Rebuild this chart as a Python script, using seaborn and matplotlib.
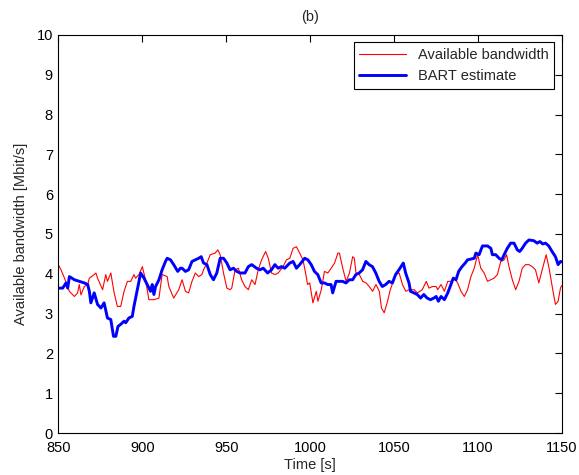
import numpy as np
import pandas as pd
import seaborn as sns
import matplotlib
matplotlib.use("Agg")
import matplotlib.pyplot as plt

# available bandwidth (red, thin)
avail_t = [850.0, 851.5, 853.5, 856.5, 859.5, 861.4, 862.4, 863.4, 865.4, 867.4, 868.4, 871.3,
           872.3, 873.3, 876.3, 878.2, 879.2, 881.2, 883.2, 885.1, 887.1, 889.1, 891.1, 893.1,
           895.0, 896.0, 898.0, 900.0, 901.9, 903.9, 906.9, 909.9, 911.8, 914.8, 915.8, 918.7,
           921.7, 923.7, 925.7, 927.6, 929.6, 931.6, 933.6, 935.5, 936.5, 938.5, 940.5, 943.4,
           945.0, 946.4, 948.4, 950.4, 952.3, 953.3, 955.3, 957.3, 959.2, 961.2, 963.2, 965.2,
           967.2, 969.1, 971.1, 973.5, 975.1, 977.0, 979.0, 981.0, 983.9, 985.9, 987.9, 989.9,
           991.9, 993.8, 995.8, 997.5, 998.5, 999.8, 1001.7, 1003.7, 1004.7, 1006.7, 1008.6, 1010.6,
           1012.6, 1014.6, 1016.6, 1017.5, 1019.5, 1021.5, 1023.5, 1025.4, 1026.4, 1027.4, 1029.4, 1031.4,
           1033.4, 1035.3, 1037.3, 1039.3, 1041.3, 1042.6, 1044.2, 1046.2, 1047.6, 1049.2, 1051.1, 1053.1,
           1055.1, 1057.1, 1059.0, 1062.0, 1064.0, 1066.9, 1069.3, 1070.9, 1072.9, 1075.2, 1076.1, 1078.1,
           1080.1, 1082.1, 1084.0, 1086.0, 1088.0, 1090.0, 1092.0, 1093.9, 1095.9, 1097.9, 1099.9, 1101.8,
           1103.8, 1105.8, 1107.8, 1109.7, 1111.7, 1113.7, 1115.7, 1117.2, 1118.6, 1120.6, 1122.6, 1124.6,
           1126.5, 1128.5, 1130.5, 1132.5, 1134.4, 1136.4, 1138.4, 1140.8, 1142.7, 1144.7, 1146.3, 1147.9,
           1149.3, 1150.0]
avail_bw = [4.22, 4.10, 3.90, 3.56, 3.43, 3.52, 3.73, 3.47, 3.68, 3.73, 3.89, 3.98,
            4.02, 3.89, 3.60, 3.98, 3.81, 4.02, 3.52, 3.18, 3.18, 3.56, 3.81, 3.81,
            3.98, 3.89, 3.98, 4.18, 3.85, 3.35, 3.35, 3.39, 3.98, 3.93, 3.68, 3.39,
            3.60, 3.85, 3.56, 3.52, 3.81, 4.02, 3.93, 3.98, 4.10, 4.27, 4.48, 4.52,
            4.60, 4.48, 4.02, 3.64, 3.60, 3.64, 4.10, 4.14, 3.85, 3.68, 3.60, 3.85,
            3.73, 4.10, 4.35, 4.56, 4.39, 4.02, 3.98, 4.02, 4.18, 4.35, 4.39, 4.64,
            4.68, 4.52, 4.35, 3.98, 3.73, 3.77, 3.27, 3.56, 3.31, 3.60, 4.06, 4.02,
            4.14, 4.27, 4.52, 4.52, 4.14, 3.81, 4.02, 4.43, 4.39, 4.02, 3.98, 3.81,
            3.77, 3.68, 3.56, 3.73, 3.56, 3.14, 3.02, 3.31, 3.56, 3.77, 3.98, 4.02,
            3.73, 3.56, 3.60, 3.60, 3.52, 3.60, 3.81, 3.64, 3.68, 3.68, 3.60, 3.73,
            3.56, 3.81, 3.81, 3.89, 3.77, 3.56, 3.43, 3.60, 3.93, 4.14, 4.48, 4.14,
            4.02, 3.81, 3.85, 3.89, 3.98, 4.31, 4.35, 4.48, 4.18, 3.85, 3.60, 3.81,
            4.14, 4.23, 4.23, 4.18, 4.10, 3.77, 4.10, 4.48, 4.10, 3.60, 3.23, 3.31,
            3.64, 3.70]

# BART estimate (blue, thick)
bart_t = [850.0, 852.5, 854.5, 855.5, 856.5, 859.5, 862.4, 865.4, 867.4, 868.4, 869.3, 871.3,
          873.3, 875.3, 877.2, 879.2, 881.2, 882.8, 884.2, 885.5, 887.1, 889.1, 890.1, 892.0,
          894.0, 895.0, 897.0, 899.0, 901.0, 902.9, 904.9, 905.9, 906.9, 907.9, 909.9, 911.8,
          913.8, 914.8, 916.8, 918.7, 921.1, 922.7, 923.7, 925.7, 927.6, 929.6, 931.6, 933.6,
          935.1, 936.5, 938.5, 940.5, 942.4, 944.4, 946.4, 948.4, 950.4, 952.3, 954.3, 956.3,
          958.3, 961.2, 963.2, 965.2, 968.1, 970.1, 972.1, 974.7, 977.0, 979.0, 981.0, 983.0,
          984.9, 987.9, 989.9, 991.9, 993.8, 996.8, 998.7, 1000.7, 1002.6, 1004.6, 1006.6, 1008.6,
          1010.5, 1012.5, 1013.5, 1015.5, 1017.5, 1019.4, 1021.4, 1023.4, 1025.4, 1027.3, 1029.3, 1031.3,
          1033.3, 1035.2, 1037.2, 1039.2, 1041.2, 1043.1, 1045.1, 1047.1, 1049.1, 1051.0, 1053.0, 1055.6,
          1057.0, 1059.0, 1059.9, 1061.9, 1063.9, 1065.9, 1067.8, 1069.8, 1071.8, 1073.8, 1075.2, 1076.5,
          1078.1, 1080.1, 1082.1, 1084.0, 1085.4, 1087.0, 1088.6, 1090.6, 1092.5, 1093.9, 1095.9, 1097.9,
          1098.9, 1100.8, 1102.8, 1105.8, 1107.8, 1108.7, 1110.7, 1112.7, 1114.3, 1115.7, 1117.6, 1119.6,
          1121.6, 1123.6, 1125.0, 1126.5, 1128.5, 1130.5, 1133.5, 1135.4, 1137.0, 1138.8, 1140.4, 1142.3,
          1144.3, 1146.3, 1147.9, 1149.3, 1150.0]
bart_bw = [3.64, 3.64, 3.77, 3.64, 3.93, 3.85, 3.81, 3.77, 3.73, 3.56, 3.27, 3.52,
           3.23, 3.14, 3.27, 2.89, 2.85, 2.43, 2.43, 2.68, 2.73, 2.81, 2.77, 2.89,
           2.93, 3.18, 3.60, 4.02, 3.89, 3.73, 3.56, 3.73, 3.48, 3.68, 3.85, 4.10,
           4.31, 4.39, 4.35, 4.23, 4.06, 4.14, 4.14, 4.06, 4.10, 4.31, 4.35, 4.39,
           4.43, 4.27, 4.23, 3.98, 3.85, 4.02, 4.39, 4.39, 4.27, 4.10, 4.14, 4.06,
           4.02, 4.02, 4.18, 4.23, 4.14, 4.10, 4.14, 4.02, 4.10, 4.23, 4.14, 4.18,
           4.14, 4.27, 4.31, 4.14, 4.23, 4.39, 4.35, 4.23, 4.06, 3.98, 3.77, 3.77,
           3.73, 3.73, 3.52, 3.81, 3.81, 3.81, 3.77, 3.85, 3.85, 3.98, 4.02, 4.10,
           4.31, 4.23, 4.18, 4.02, 3.81, 3.68, 3.73, 3.81, 3.77, 3.98, 4.10, 4.27,
           4.02, 3.77, 3.56, 3.52, 3.48, 3.39, 3.48, 3.39, 3.35, 3.39, 3.43, 3.31,
           3.43, 3.35, 3.52, 3.73, 3.89, 3.85, 4.06, 4.18, 4.27, 4.35, 4.37, 4.39,
           4.52, 4.48, 4.70, 4.70, 4.64, 4.48, 4.48, 4.39, 4.35, 4.48, 4.64, 4.77,
           4.77, 4.60, 4.56, 4.64, 4.77, 4.85, 4.83, 4.77, 4.81, 4.75, 4.77, 4.70,
           4.56, 4.43, 4.23, 4.31, 4.30]

sns.set_style("white")
plt.rcParams['font.family'] = ['Liberation Sans', 'DejaVu Sans']
fs = 10.5

fig = plt.figure(figsize=(5.79, 4.75), dpi=100)
ax = fig.add_axes([0.101, 0.0884, 0.869, 0.838])

sns.lineplot(x=avail_t, y=avail_bw, ax=ax, color='#ff0000', linewidth=0.8,
             label='Available bandwidth')
sns.lineplot(x=bart_t, y=bart_bw, ax=ax, color='#0000ff', linewidth=2.1,
             label='BART estimate')

ax.set_xlim(850, 1150)
ax.set_ylim(0, 10)
ax.set_xticks(np.arange(850, 1151, 50))
ax.set_yticks(np.arange(0, 11, 1))
ax.tick_params(direction='in', length=5, width=0.8, top=True, right=True,
               labelsize=fs, colors='black')
ax.tick_params(axis='x', pad=6)
ax.tick_params(axis='y', pad=4)
for s in ax.spines.values():
    s.set_visible(True)
    s.set_color('black')
    s.set_linewidth(0.8)

ax.set_xlabel('Time [s]', fontsize=fs, labelpad=2)
ax.set_ylabel('Available bandwidth [Mbit/s]', fontsize=fs, labelpad=6)
ax.set_title('(b)', fontsize=fs, pad=10)

leg = ax.legend(loc='upper right', fancybox=False, framealpha=1, edgecolor='black',
                fontsize=fs, handlelength=3.2, borderaxespad=0.5)
leg.get_frame().set_linewidth(0.8)

fig.savefig('out.png', dpi=100)
